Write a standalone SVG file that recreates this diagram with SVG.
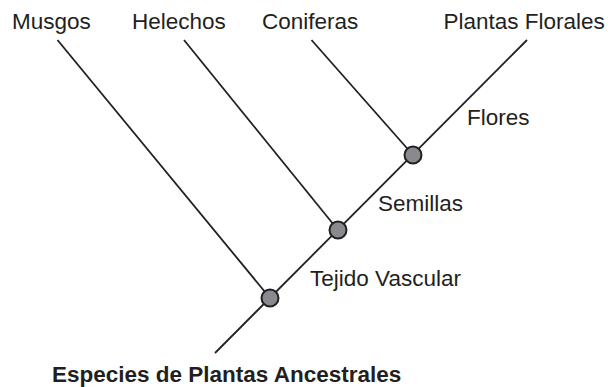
<svg xmlns="http://www.w3.org/2000/svg" width="608" height="387" viewBox="0 0 608 387">
<style>
.ln{stroke:#231f20;stroke-width:1.8;fill:none;stroke-linecap:butt}
.nd{fill:#898a8d;stroke:#231f20;stroke-width:2}
.t{font-family:"Liberation Sans",Arial,Helvetica,sans-serif;font-size:22.5px;fill:#231f20}
.b{font-weight:bold}
</style>
<rect width="608" height="387" fill="#ffffff"/>
<g id="connectors">
<line class="ln" x1="215" y1="353" x2="527" y2="40"/>
<line class="ln" x1="57.5" y1="40" x2="270" y2="298"/>
<line class="ln" x1="184" y1="40" x2="338" y2="230"/>
<line class="ln" x1="311.5" y1="40" x2="413" y2="155"/>
</g>
<g id="node-tejido"><circle class="nd" cx="270" cy="298" r="8.5"/></g>
<g id="node-semillas"><circle class="nd" cx="338" cy="230" r="8.5"/></g>
<g id="node-flores"><circle class="nd" cx="413" cy="155" r="8.5"/></g>
<g id="label-musgos"><text class="t" x="12" y="28.5">Musgos</text></g>
<g id="label-helechos"><text class="t" x="132" y="28.5">Helechos</text></g>
<g id="label-coniferas"><text class="t" x="262" y="28.5">Coniferas</text></g>
<g id="label-florales"><text class="t" x="443.5" y="28.5">Plantas Florales</text></g>
<g id="label-flores"><text class="t" x="467" y="124.5">Flores</text></g>
<g id="label-semillas"><text class="t" x="378" y="211">Semillas</text></g>
<g id="label-tejido"><text class="t" x="310" y="286">Tejido Vascular</text></g>
<g id="label-ancestral"><text class="t b" x="52" y="381.5">Especies de Plantas Ancestrales</text></g>
</svg>
